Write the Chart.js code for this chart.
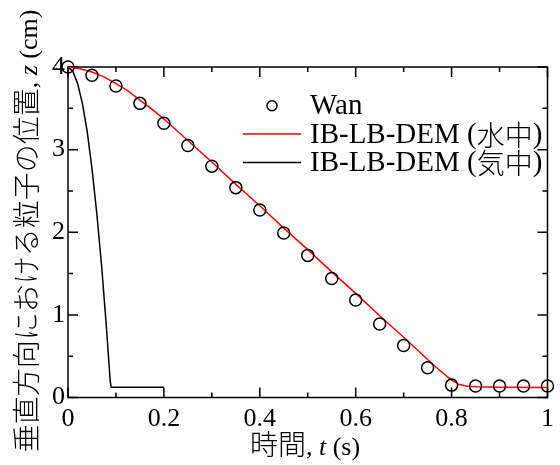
<!DOCTYPE html>
<html>
<head>
<meta charset="utf-8">
<script src="https://cdn.jsdelivr.net/npm/chart.js@4.4.1/dist/chart.umd.min.js"></script>
<style>
  body { margin: 0; background: #fff; }
  canvas { display: block; }
</style>
</head>
<body>
<canvas id="fall" width="560" height="465"></canvas>
<script>
// ---- data ----
// Wan (experiment), circles
const wanT = [0, 0.05, 0.1, 0.15, 0.2, 0.25, 0.3, 0.35, 0.4, 0.45, 0.5,
              0.55, 0.6, 0.65, 0.7, 0.75, 0.8, 0.85, 0.9, 0.95, 1.0];
const wanZ = [4.00, 3.90, 3.77, 3.56, 3.32, 3.05, 2.80, 2.54, 2.27, 1.99, 1.72,
              1.44, 1.18, 0.89, 0.63, 0.36, 0.15, 0.14, 0.14, 0.14, 0.14];

// IB-LB-DEM in water (red)
const waterT = [0, 0.025, 0.05, 0.075, 0.1, 0.125, 0.15, 0.175, 0.2, 0.25, 0.3,
                0.35, 0.4, 0.45, 0.5, 0.55, 0.6, 0.65, 0.7, 0.75, 0.775, 0.8,
                0.815, 0.83, 0.85, 0.9, 1.0];
const waterZ = [4.00, 3.98, 3.94, 3.88, 3.80, 3.71, 3.60, 3.49, 3.37, 3.11, 2.85,
                2.58, 2.32, 2.05, 1.79, 1.52, 1.26, 0.99, 0.73, 0.46, 0.33, 0.21,
                0.16, 0.14, 0.13, 0.125, 0.12];

// IB-LB-DEM in air (black)
const airT = [0, 0.01, 0.02, 0.03, 0.04, 0.05, 0.06, 0.07, 0.08, 0.088, 0.09, 0.2];
const airZ = [4.00, 3.95, 3.80, 3.56, 3.22, 2.77, 2.23, 1.60, 0.86, 0.20, 0.125, 0.125];

const labels = ['Wan', 'IB-LB-DEM (水中)', 'IB-LB-DEM (気中)'];

// axis ticks
const xTicks = [0, 0.2, 0.4, 0.6, 0.8, 1];
const xMinor = [0.1, 0.3, 0.5, 0.7, 0.9];
const yTicks = [0, 1, 2, 3, 4];
const yMinor = [0.5, 1.5, 2.5, 3.5];

const serif = "'Liberation Serif', 'Noto Sans CJK JP'";

function pts(xs, ys) {
    return xs.map((v, i) => ({ x: v, y: ys[i] }));
}

// frame with inward ticks on all four sides
const frame = {
    id: 'frame',
    beforeDatasetsDraw(chart) {
        const ctx = chart.ctx, a = chart.chartArea;
        const x = chart.scales.x, y = chart.scales.y;
        ctx.save();
        ctx.strokeStyle = '#000';
        ctx.lineWidth = 1.5;
        ctx.strokeRect(a.left, a.top, a.right - a.left, a.bottom - a.top);
        ctx.beginPath();
        function tx(v, len) {
            const p = x.getPixelForValue(v);
            ctx.moveTo(p, a.bottom); ctx.lineTo(p, a.bottom - len);
            ctx.moveTo(p, a.top); ctx.lineTo(p, a.top + len);
        }
        function ty(v, len) {
            const p = y.getPixelForValue(v);
            ctx.moveTo(a.left, p); ctx.lineTo(a.left + len, p);
            ctx.moveTo(a.right, p); ctx.lineTo(a.right - len, p);
        }
        xTicks.forEach(v => tx(v, 10));
        xMinor.forEach(v => tx(v, 5));
        yTicks.forEach(v => ty(v, 10));
        yMinor.forEach(v => ty(v, 5));
        ctx.stroke();
        ctx.restore();
    }
};

// draw a run of text pieces with different fonts, centred on 0
function drawPieces(ctx, pieces) {
    let total = 0;
    pieces.forEach(p => { ctx.font = p[1]; total += ctx.measureText(p[0]).width; });
    let cx = -total / 2;
    pieces.forEach(p => {
        ctx.font = p[1];
        ctx.fillText(p[0], cx, 0);
        cx += ctx.measureText(p[0]).width;
    });
}

const titles = {
    id: 'titles',
    afterDraw(chart) {
        const ctx = chart.ctx;
        const cjk = "300 28px 'Noto Sans CJK JP'";
        const lat = "26px 'Liberation Serif'";
        const ita = "italic 26px 'Liberation Serif'";
        ctx.save();
        ctx.fillStyle = '#000';
        ctx.textBaseline = 'alphabetic';
        ctx.textAlign = 'left';
        // x title
        ctx.save();
        ctx.translate(305, 455);
        drawPieces(ctx, [['時間', cjk], [', ', lat], ['t', ita], [' (s)', lat]]);
        ctx.restore();
        // y title
        ctx.save();
        ctx.translate(37, 231);
        ctx.rotate(-Math.PI / 2);
        drawPieces(ctx, [['垂直方向における粒子の位置', cjk], [', ', lat], ['z', ita], [' (cm)', lat]]);
        ctx.restore();
        ctx.restore();
    }
};

// legend in the upper right of the plot
const legendBox = {
    id: 'legendBox',
    afterDraw(chart) {
        const ctx = chart.ctx;
        const rows = [105.7, 134, 162.5];
        ctx.save();
        ctx.fillStyle = '#000';
        ctx.textBaseline = 'middle';
        chart.data.datasets.forEach((ds, i) => {
            const yy = rows[i];
            ctx.strokeStyle = ds.borderColor;
            ctx.lineWidth = 1.5;
            ctx.beginPath();
            if (ds.showLine === false) {
                ctx.arc(272, yy, 5, 0, Math.PI * 2);
            } else {
                ctx.moveTo(243, yy); ctx.lineTo(301, yy);
            }
            ctx.stroke();
            // label: latin part in serif, CJK part lighter
            const m = ds.label.match(/^(.*\()(.*)(\))$/);
            let cx = 310;
            const parts = m ? [[m[1], "29px 'Liberation Serif'"], [m[2], "300 28px 'Noto Sans CJK JP'"], [m[3], "29px 'Liberation Serif'"]]
                            : [[ds.label, "29px 'Liberation Serif'"]];
            parts.forEach(p => {
                ctx.font = p[1];
                ctx.fillText(p[0], cx, yy + 1);
                cx += ctx.measureText(p[0]).width;
            });
        });
        ctx.restore();
    }
};

new Chart(document.getElementById('fall'), {
    type: 'line',
    data: {
        datasets: [{
            label: labels[0],
            data: pts(wanT, wanZ),
            showLine: false,
            pointStyle: 'circle',
            pointRadius: 6,
            pointBorderWidth: 1.5,
            borderColor: '#000',
            pointBorderColor: '#000',
            pointBackgroundColor: 'rgba(0,0,0,0)',
            clip: false
        }, {
            label: labels[1],
            data: pts(waterT, waterZ),
            borderColor: '#ff0000',
            borderWidth: 1.5,
            pointRadius: 0,
            tension: 0,
            clip: false
        }, {
            label: labels[2],
            data: pts(airT, airZ),
            borderColor: '#000',
            borderWidth: 1.5,
            pointRadius: 0,
            tension: 0,
            clip: false
        }]
    },
    options: {
        responsive: false,
        animation: false,
        layout: { padding: { top: 67, right: 11, left: 0, bottom: 0 } },
        plugins: {
            legend: { display: false },
            tooltip: { enabled: false }
        },
        scales: {
            x: {
                type: 'linear',
                min: 0, max: 1,
                grid: { display: false, drawTicks: false },
                border: { display: false },
                afterBuildTicks: s => { s.ticks = xTicks.map(v => ({ value: v })); },
                afterFit: s => { s.height = 67.5; },
                ticks: {
                    color: '#000',
                    padding: 6,
                    maxRotation: 0,
                    font: { family: serif, size: 26 },
                    callback: v => String(v)
                }
            },
            y: {
                type: 'linear',
                min: 0, max: 4,
                grid: { display: false, drawTicks: false },
                border: { display: false },
                afterBuildTicks: s => { s.ticks = yTicks.map(v => ({ value: v })); },
                afterFit: s => { s.width = 68; },
                ticks: {
                    color: '#000',
                    padding: 3,
                    font: { family: serif, size: 26 },
                    callback: v => String(v)
                }
            }
        }
    },
    plugins: [frame, titles, legendBox]
});
</script>
</body>
</html>
